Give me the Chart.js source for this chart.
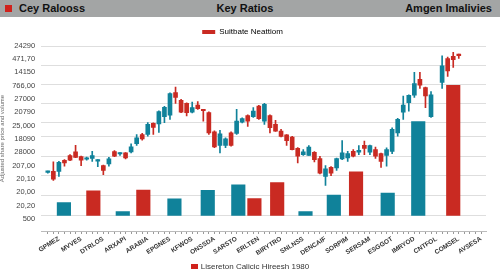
<!DOCTYPE html>
<html>
<head>
<meta charset="utf-8">
<script src="https://cdn.jsdelivr.net/npm/chart.js@4.4.1/dist/chart.umd.min.js"></script>
<style>
  html, body { margin: 0; padding: 0; background: #fff; }
  #wrap { position: relative; width: 500px; height: 272px; overflow: hidden; font-family: "Liberation Sans", Arial, sans-serif; }
  #chart { position: absolute; left: 0; top: 0; }
  #header { position: absolute; left: 0; top: 0; width: 500px; height: 17px; background: #a3a5a5; color: #111; font-weight: bold; font-size: 11px; line-height: 17px; }
  #header .sq { position: absolute; left: 5px; top: 5px; width: 7px; height: 7px; background: #d0221c; }
  #header .l { position: absolute; left: 19px; }
  #header .c { position: absolute; left: 0; width: 490px; text-align: center; }
  #header .r { position: absolute; right: 8px; }
  #foot { position: absolute; left: 0; top: 262px; width: 500px; text-align: center; font-size: 8px; color: #333; }
  #foot .box { display: inline-block; width: 7px; height: 5px; background: #d0221c; margin-right: 3px; }
</style>
</head>
<body>
<div id="wrap">
  <canvas id="chart" width="500" height="272"></canvas>
  <div id="header"><span class="sq"></span><span class="l">Cey Ralooss</span><span class="c">Key Ratios</span><span class="r">Amgen Imalivies</span></div>
  <div id="foot"><span class="box"></span>Lisereton Calicic Hireesh 1980</div>
</div>
<script>
const TEAL = "#10829a";
const RED = "#c92a22";

const xLabels = ["GPMEZ", "MVVES", "DTRLOS", "ARXAPI", "ARABIA", "EPGNES", "KFWOS", "ONSSDA", "SARSTO", "ERLTEN",
    "BIRYTRO", "SNLNSS", "DENCAIF", "SORPIM", "SERSAM", "ESGGOT", "IMRYOD", "CNTFOL", "COMSEL", "AVSESA"];

// left axis labels, top to bottom
const yLabels = ["24290", "471,70", "14150", "766,00", "27000", "20790", "25,000", "18090", "28000", "207,00",
    "20,10", "20,00", "20,20", "500"];
const yTitle = "Adjusted share price and volume";

const gridValues = [0, 110, 213, 316, 422, 494, 595, 696, 799, 900];

const legendTop = "Suitbate Neattiom";

// candles, one per slot (slot 70 is empty)
const candleOpen = [231, 236, 236, 294, 320, 339, 314, 300, 305, 290,
    266, 275, 341, 328, 334, 339, 383, 431, 431, 490,
    487, 526, 534, 653, 612, 596, 550, 587, 562, 547,
    446, 374, 373, 440, 437, 497, 532, 526, 582, 502,
    532, 485, 449, 429, 417, 358, 325, 321, 337, 304,
    209, 257, 254, 302, 307, 342, 337, 374, 337, 351,
    330, 321, 342, 440, 550, 600, 639, 724, 680, 526,
    null, 707, 834, 845, 855];
const candleClose = [234, 195, 284, 281, 295, 310, 295, 305, 320, 298,
    241, 302, 316, 333, 307, 366, 414, 408, 485, 469,
    552, 575, 648, 627, 550, 547, 574, 568, 557, 440,
    366, 435, 408, 374, 502, 515, 502, 555, 515, 591,
    467, 449, 421, 399, 351, 316, 339, 364, 298, 227,
    250, 227, 304, 334, 330, 316, 348, 357, 373, 316,
    289, 351, 458, 511, 587, 639, 701, 692, 635, 641,
    null, 795, 768, 827, 849];
const candleHigh = [237, 286, 289, 298, 325, 374, 317, 312, 342, 298,
    269, 310, 346, 336, 336, 382, 431, 437, 494, 493,
    557, 580, 652, 683, 618, 599, 603, 606, 565, 551,
    450, 453, 413, 445, 565, 519, 535, 574, 586, 596,
    535, 506, 458, 431, 421, 362, 351, 373, 341, 316,
    266, 261, 306, 399, 342, 351, 373, 396, 375, 364,
    333, 361, 467, 517, 635, 642, 760, 760, 682, 659,
    null, 848, 841, 866, 857];
const candleLow = [226, 188, 209, 263, 293, 309, 266, 295, 289, 261,
    218, 263, 314, 320, 302, 334, 373, 401, 422, 431,
    442, 494, 511, 596, 547, 529, 546, 564, 502, 431,
    362, 334, 361, 370, 431, 493, 474, 522, 511, 485,
    440, 447, 418, 373, 349, 281, 320, 320, 286, 222,
    161, 213, 241, 298, 289, 312, 325, 325, 325, 304,
    257, 263, 330, 422, 511, 555, 628, 675, 574, 522,
    null, 675, 739, 787, 834];

// volume bars
const volX = [2.9, 8.2, 13.5, 17.2, 22.8, 28.8, 34.3, 37.2, 41.3, 46.4, 51.5, 55.5, 61.2, 66.7, 73.0];
const volValue = [71, 133, 23, 137, 91, 135, 165, 92, 177, 23, 110, 234, 121, 499, 692];
const volUp = [true, false, true, false, true, true, true, false, false, true, true, false, true, true, false];

Chart.defaults.font.family = '"Liberation Sans", Arial, sans-serif';

const slots = Array.from({ length: 79 }, (_, i) => i);

var wicks = [], bodies = [], candleColors = [];
candleOpen.forEach((o, i) => {
    if (o == null) return;
    wicks.push({ x: i, y: [candleLow[i], candleHigh[i]] });
    bodies.push({ x: i, y: [o, candleClose[i]] });
    candleColors.push(candleClose[i] >= o ? TEAL : RED);
});

chart = new Chart(document.getElementById("chart"), {
    type: "bar",
    data: {
        datasets: [
            {
                label: "bodies",
                data: bodies,
                backgroundColor: candleColors,
                barThickness: 4,
                minBarLength: 1.5,
                grouped: false,
                xAxisID: "x",
                yAxisID: "y",
                order: 0
            },
            {
                label: "wicks",
                data: wicks,
                backgroundColor: candleColors,
                barThickness: 1,
                grouped: false,
                xAxisID: "x",
                yAxisID: "y",
                order: 1
            },
            {
                label: "volume",
                data: volX.map((x, i) => ({ x: x, y: volValue[i] })),
                backgroundColor: volUp.map(u => u ? TEAL : RED),
                barThickness: 13.5,
                grouped: false,
                xAxisID: "x",
                yAxisID: "y",
                order: 2
            }
        ]
    },
    options: {
        responsive: false,
        animation: false,
        events: [],
        layout: { padding: { top: 22, left: -1, right: 14, bottom: 14 } },
        scales: {
            x: {
                type: "linear",
                min: -1.2,
                max: 78.9,
                offset: false,
                afterBuildTicks: (s) => { s.ticks = slots.map(v => ({ value: v })); },
                ticks: {
                    autoSkip: false,
                    minRotation: 32,
                    maxRotation: 32,
                    padding: 1,
                    color: "#333",
                    font: { size: 6.5, weight: "bold" },
                    callback: (v) => v % 4 === 2 ? xLabels[(v - 2) / 4] : ""
                },
                grid: { offset: false, drawOnChartArea: false, drawTicks: true, tickLength: 3, color: "#999" },
                border: { color: "#bbb" }
            },
            yl: {
                type: "linear",
                position: "left",
                min: -0.905,
                max: 12.978,
                afterBuildTicks: (s) => { s.ticks = yLabels.map((_, i) => ({ value: i })); },
                ticks: {
                    autoSkip: false,
                    padding: 6,
                    color: "#444",
                    font: { size: 7.5 },
                    callback: (v) => yLabels[yLabels.length - 1 - v]
                },
                grid: { display: false, drawTicks: false },
                border: { display: false },
                title: { display: true, text: yTitle, color: "#666", font: { size: 6 }, padding: { top: 0, bottom: 0 } }
            },
            y: {
                type: "linear",
                position: "left",
                min: -80,
                max: 900,
                afterBuildTicks: (s) => { s.ticks = gridValues.map(v => ({ value: v })); },
                ticks: { display: false },
                grid: { color: "#dedede", drawTicks: false },
                border: { display: false }
            }
        },
        plugins: {
            tooltip: { enabled: false },
            legend: {
                display: true,
                position: "top",
                labels: {
                    boxWidth: 13,
                    boxHeight: 4,
                    padding: 6,
                    color: "#333",
                    font: { size: 8 },
                    generateLabels: () => [{ text: legendTop, fillStyle: RED, strokeStyle: RED, lineWidth: 0, hidden: false }]
                }
            }
        }
    }
});
</script>
</body>
</html>
